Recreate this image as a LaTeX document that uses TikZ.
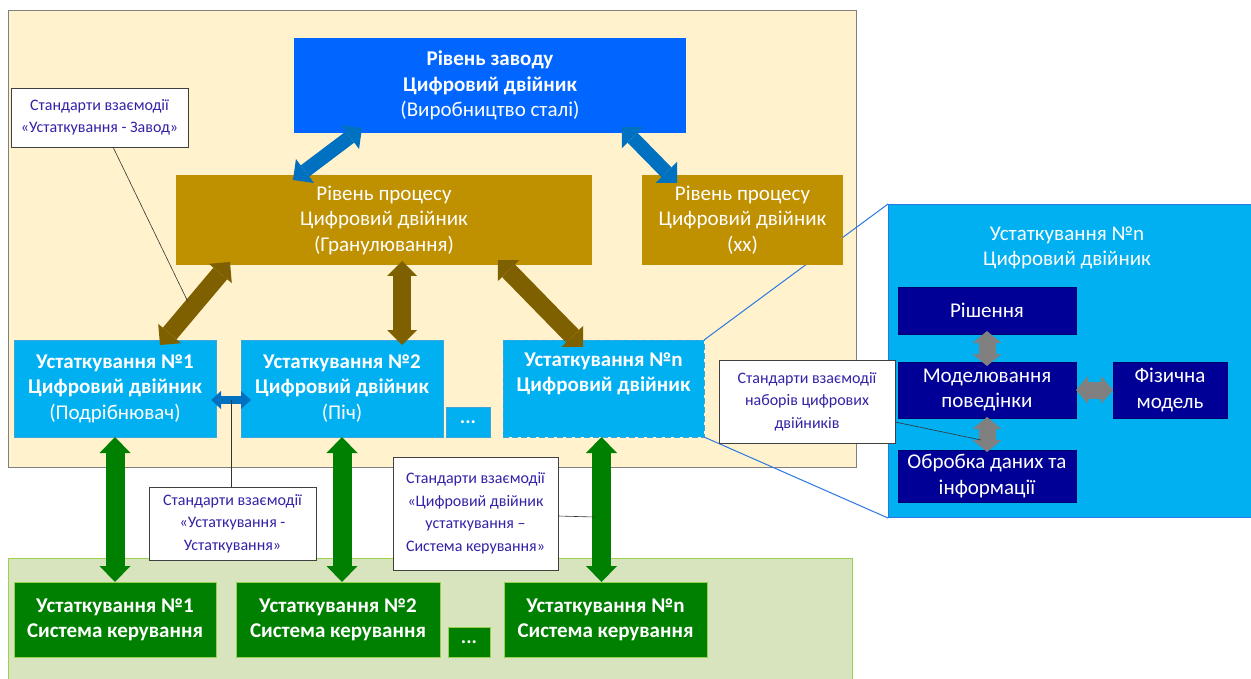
\documentclass[tikz,border=0pt]{standalone}
\usepackage{fontspec}
\setmainfont{Carlito}
\usetikzlibrary{arrows.meta,calc}
\definecolor{beige}{HTML}{FFF2CC}
\definecolor{beigeline}{HTML}{808080}
\definecolor{greenbg}{HTML}{D7E4BD}
\definecolor{lgreen}{HTML}{9BD14F}
\definecolor{plantblue}{HTML}{0066FF}
\definecolor{procbrown}{HTML}{BF9000}
\definecolor{eqblue}{HTML}{00B0F0}
\definecolor{eqline}{HTML}{3AA6DA}
\definecolor{arrblue}{HTML}{0070C0}
\definecolor{arrbrown}{HTML}{7F6000}
\definecolor{ctrlgreen}{HTML}{008000}
\definecolor{navy}{HTML}{000096}
\definecolor{arrgray}{HTML}{808080}
\definecolor{calltext}{HTML}{3222A8}
\definecolor{zoomblue}{HTML}{2A78E4}
\tikzset{
  fbox/.style={anchor=north west, inner sep=0pt, outer sep=0pt, align=center, text=white,
    font=\fontsize{21}{25.5}\selectfont},
  plantbox/.style={fbox, fill=plantblue},
  procbox/.style={fbox, fill=procbrown},
  eqbox/.style={fbox, fill=eqblue, draw=eqline, line width=0.8pt},
  ctrlbox/.style={fbox, fill=ctrlgreen, draw=lgreen, line width=0.8pt, font=\fontsize{21}{25}\selectfont\bfseries},
  navybox/.style={fbox, fill=navy, draw=navy!70!black, line width=0.6pt, font=\fontsize{21}{25.5}\selectfont},
  callout/.style={anchor=north west, inner sep=0pt, outer sep=0pt, align=center, fill=white,
    draw=black!75, line width=0.8pt, text=calltext, font=\fontsize{16}{22.5}\selectfont},
  leader/.style={draw=black!80, line width=0.6pt},
  zoomline/.style={draw=zoomblue, line width=1pt},
  blk/.style n args={4}{draw=#1, line width=#2,
    arrows={Triangle[width=#3,length=#4,line width=0pt]-Triangle[width=#3,length=#4,line width=0pt]}},
}
\begin{document}
\begin{tikzpicture}[x=1pt,y=-1pt]
\useasboundingbox (0,0) rectangle (1251,679);
\fill[white] (0,0) rectangle (1251,679);
% panels
\node[anchor=north west, draw=beigeline, fill=beige, line width=1.2pt, minimum width=848pt, minimum height=457pt, inner sep=0pt] (plant) at (8,10) {};
\node[anchor=north west, draw=lgreen, fill=greenbg, line width=1pt, minimum width=844pt, minimum height=130pt, inner sep=0pt] (ctrl) at (8,558) {};
% zoomed equipment panel
\node[anchor=north west, draw=zoomblue, fill=eqblue, line width=1pt, minimum width=370pt, minimum height=313pt, inner sep=0pt] (rb) at (888,204) {};
% plant level
\node[plantbox, minimum width=392pt, minimum height=95pt] (top) at (294,38)
  {\textbf{Рівень заводу}\\\textbf{Цифровий двійник}\\(Виробництво сталі)};
% equipment n (needed for zoom lines)
\node[eqbox, draw=eqline, dashed, dash pattern=on 6pt off 3pt, minimum width=201pt, minimum height=97pt, font=\fontsize{21}{25.5}\selectfont\bfseries] (en) at (503,340)
  {Устаткування №n\\Цифровий двійник\\\strut};
\draw[zoomline] (en.north east) -- (rb.north west);
\draw[zoomline] (en.south east) -- (rb.south west);
% process level
\node[procbox, minimum width=416pt, minimum height=90pt] (p1) at (176,175)
  {Рівень процесу\\Цифровий двійник\\(Гранулювання)};
\node[procbox, minimum width=201pt, minimum height=90pt] (p2) at (642,175)
  {Рівень процесу\\Цифровий двійник\\(xx)};
% equipment digital twins
\node[eqbox, minimum width=202pt, minimum height=97pt] (e1) at (14,340)
  {\textbf{Устаткування №1}\\\textbf{Цифровий двійник}\\(Подрібнювач)};
\node[eqbox, minimum width=202pt, minimum height=97pt] (e2) at (241,340)
  {\textbf{Устаткування №2}\\\textbf{Цифровий двійник}\\(Піч)};
\node[eqbox, minimum width=44pt, minimum height=30pt, font=\fontsize{20}{25}\selectfont\bfseries] (edots) at (446,407) {...};
% control systems
\node[ctrlbox, minimum width=202pt, minimum height=75pt] (c1) at (14,582)
  {Устаткування №1\\Система керування};
\node[ctrlbox, minimum width=204pt, minimum height=75pt] (c2) at (236,582)
  {Устаткування №2\\Система керування};
\node[ctrlbox, minimum width=42pt, minimum height=30pt, font=\fontsize{20}{25}\selectfont\bfseries] (cdots) at (448,627) {...};
\node[ctrlbox, minimum width=203pt, minimum height=75pt] (cn) at (504,582)
  {Устаткування №n\\Система керування};
% zoom panel content
\node[text=white, align=center, font=\fontsize{21}{25}\selectfont] (rbt) at (1067,248)
  {Устаткування №n\\Цифровий двійник};
\node[navybox, minimum width=178pt, minimum height=47pt] (r1) at (898,287) {Рішення};
\node[navybox, minimum width=178pt, minimum height=56pt] (r2) at (898,362) {Моделювання\\поведінки};
\node[navybox, minimum width=114pt, minimum height=56pt] (r3) at (1113,362) {Фізична\\модель};
\node[navybox, minimum width=178pt, minimum height=52pt] (r4) at (898,450) {Обробка даних та\\інформації};
% arrow end points
\coordinate (b1a) at (293,180); \coordinate (b1b) at (362,128);
\coordinate (b2a) at (622,127); \coordinate (b2b) at (677,183);
\coordinate (m1a) at (230,262); \coordinate (m1b) at (160,345);
\coordinate (m2a) at (402,261); \coordinate (m2b) at (402,345);
\coordinate (m3a) at (498,260); \coordinate (m3b) at (583,347);
\coordinate (sa) at (211,400); \coordinate (sb) at (251,400);
% block arrows
\draw[blk={arrblue}{14pt}{30pt}{15pt}] (b1a) -- (b1b);
\draw[blk={arrblue}{14pt}{30pt}{15pt}] (b2a) -- (b2b);
\draw[blk={arrbrown}{18pt}{30pt}{15pt}] (m1a) -- (m1b);
\draw[blk={arrbrown}{18pt}{30pt}{15pt}] (m2a) -- (m2b);
\draw[blk={arrbrown}{18pt}{30pt}{15pt}] (m3a) -- (m3b);
\draw[blk={arrblue}{8pt}{18pt}{10pt}] (sa) -- (sb);
\draw[blk={ctrlgreen}{19pt}{31pt}{16pt}] (e1.south) -- (c1.north);
\draw[blk={ctrlgreen}{19pt}{31pt}{16pt}] (e2.south) -- (e2.south |- c2.north);
\draw[blk={ctrlgreen}{19pt}{31pt}{16pt}] ($(en.south)+(-2,0)$) -- ($(en.south |- cn.north)+(-2,0)$);
\draw[blk={arrgray}{17pt}{29pt}{12pt}] ($(r1.south)+(0,-3)$) -- ($(r2.north)+(0,4)$);
\draw[blk={arrgray}{17pt}{29pt}{12pt}] ($(r2.south)+(0,-1)$) -- ($(r4.north)+(0,2)$);
\draw[blk={arrgray}{17pt}{28pt}{12pt}] (r2.east) -- (r3.west);
% callouts
\node[callout, minimum width=177pt, minimum height=59pt] (k1) at (11,88)
  {Стандарти взаємодії\\«Устаткування - Завод»};
\node[callout, minimum width=167pt, minimum height=73pt] (k2) at (149,487)
  {Стандарти взаємодії\\«Устаткування -\\Устаткування»};
\node[callout, minimum width=165pt, minimum height=113pt] (k3) at (393,457)
  {Стандарти взаємодії\\«Цифровий двійник\\устаткування –\\Система керування»};
\node[callout, minimum width=176pt, minimum height=83pt] (k4) at (719,360)
  {Стандарти взаємодії\\наборів цифрових\\двійників};
% leader lines
\coordinate (k1t) at (188,302);
\coordinate (k3t) at (594,517);
\coordinate (k4t) at (981,440);
\draw[leader] ($(k1.south west)+(102,0)$) -- (k1t);
\draw[leader] (k2.north -| sa) ++(20,0) -- ($(sa)+(20,0)$);
\draw[leader] ($(k3.east)+(0,2.5)$) -- (k3t);
\draw[leader] ($(k4.south east)+(0,-21)$) -- (k4t);
\end{tikzpicture}
\end{document}
